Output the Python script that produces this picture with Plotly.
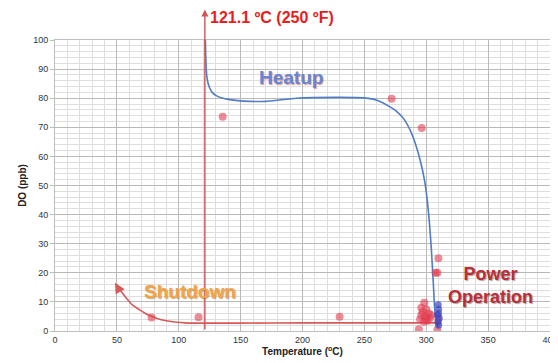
import plotly.graph_objects as go

# Heatup curve (temperature °C, DO ppb)
heat_t = [121.5, 121.8, 122.2, 122.7, 123.5, 125, 127, 130.6, 135, 140, 152, 170, 195, 230, 250, 258, 264, 270, 276, 282, 287, 291.5, 295.5, 298.5, 300.8, 302.6, 304.0, 305.1, 306.0, 306.6, 307.3, 308.2, 309.5]
heat_do = [100, 95, 90, 87.4, 85.5, 83.5, 82.0, 80.8, 80.1, 79.6, 79.0, 78.9, 80.0, 80.3, 80.1, 79.6, 78.6, 77.2, 75.5, 72.8, 69.0, 64.0, 58.0, 52.0, 45.0, 37.0, 29.0, 21.0, 14.0, 9.0, 5.5, 3.0, 1.2]

# Shutdown curve
shut_t = [310, 250, 200, 150, 115, 105, 98.3, 90, 82, 75, 68.7, 62.5, 57.9, 53, 49.5]
shut_do = [2.8, 2.8, 2.8, 2.7, 2.7, 2.8, 3.0, 3.5, 4.4, 5.6, 7.2, 9.0, 11.2, 13.8, 16.0]

# Measured points (red)
red_t = [135.5, 272, 296.3, 78, 116, 230, 309.8, 309, 307.5, 298.4, 294, 309, 296, 297, 299, 300, 302, 303, 295, 298, 301, 304, 309.7, 296, 300]
red_do = [73.6, 79.8, 69.8, 4.6, 4.7, 4.9, 25.0, 20.0, 20.0, 9.7, 0.6, 0.4, 8.0, 6.5, 5.0, 7.5, 6.0, 4.5, 4.0, 3.2, 3.5, 5.5, 3.8, 5.5, 4.2]

# Measured points (blue)
blue_t = [309.7, 310, 310, 310.5, 309.5, 310, 309]
blue_do = [9.0, 7.5, 6.0, 4.5, 3.0, 2.0, 5.5]

fig = go.Figure()

fig.add_trace(go.Scatter(x=heat_t, y=heat_do, mode="lines", line=dict(color="rgb(80,125,195)", width=1.6, shape="spline", smoothing=0.4), hoverinfo="skip", showlegend=False))
fig.add_trace(go.Scatter(x=shut_t, y=shut_do, mode="lines", line=dict(color="rgb(215,90,90)", width=1.6, shape="spline", smoothing=0.5), hoverinfo="skip", showlegend=False))
fig.add_trace(go.Scatter(x=red_t, y=red_do, mode="markers", marker=dict(color="rgba(225,60,80,0.6)", size=8), showlegend=False))
fig.add_trace(go.Scatter(x=blue_t, y=blue_do, mode="markers", marker=dict(color="rgba(60,70,190,0.7)", size=7), showlegend=False))

# Arrow head for shutdown curve
fig.add_annotation(x=48.5, y=16.6, ax=52.5, ay=13.6, axref="x", ayref="y", xref="x", yref="y", text="", showarrow=True, arrowhead=2, arrowsize=1.3, arrowwidth=1.6, arrowcolor="rgb(215,90,90)")

# 121.1 °C vertical arrow
fig.add_annotation(x=121.1, y=110.5, ax=121.1, ay=0, axref="x", ayref="y", xref="x", yref="y", text="", showarrow=True, arrowhead=2, arrowsize=1, arrowwidth=1.4, arrowcolor="rgb(205,85,85)")
fig.add_annotation(x=123.5, y=1.078, xref="x", yref="paper", text="<b>121.1 ºC (250 ºF)</b>", showarrow=False, xanchor="left", yanchor="middle", font=dict(family="Liberation Sans Narrow, Liberation Sans", size=16, color="rgb(230,30,30)"))

fig.add_annotation(x=190.5, y=87, xref="x", yref="y", text="<b>Heatup</b>", showarrow=False, font=dict(family="Liberation Sans", size=19, color="rgb(100,135,215)", shadow="1px 1px 1px rgba(200,80,80,0.6)"))
fig.add_annotation(x=109, y=13.5, xref="x", yref="y", text="<b>Shutdown</b>", showarrow=False, font=dict(family="Liberation Sans", size=19, color="rgb(240,165,70)", shadow="1px 1px 1px rgba(140,80,20,0.5)"))
fig.add_annotation(x=352, y=15.5, xref="x", yref="y", text="<b>Power<br>Operation</b>", showarrow=False, font=dict(family="Liberation Sans", size=18, color="rgb(190,45,55)", shadow="1px 1px 1px rgba(0,0,0,0.35)"))

fig.update_xaxes(range=[0, 400], dtick=50, tick0=0, showgrid=True, gridcolor="rgb(185,185,185)", gridwidth=1,
                 minor=dict(dtick=10, showgrid=True, gridcolor="rgb(222,222,222)", gridwidth=1),
                 showline=True, linecolor="rgb(190,190,190)", mirror=True, zeroline=False, automargin=False,
                 ticks="", tickfont=dict(family="Liberation Sans", size=9, color="#333"),
                 title=dict(text="<b>Temperature (<sup>o</sup>C)</b>", font=dict(family="Liberation Sans", size=10, color="#222"), standoff=2))
fig.update_yaxes(range=[0, 100], dtick=10, tick0=0, showgrid=True, gridcolor="rgb(185,185,185)", gridwidth=1,
                 minor=dict(dtick=2, showgrid=True, gridcolor="rgb(222,222,222)", gridwidth=1),
                 showline=True, linecolor="rgb(190,190,190)", mirror=True, zeroline=False, automargin=False,
                 ticks="outside", ticklen=4, tickcolor="rgb(190,190,190)",
                 tickfont=dict(family="Liberation Sans", size=9, color="#333"),
                 title=dict(text="<b>DO (ppb)</b>", font=dict(family="Liberation Sans", size=10, color="#222"), standoff=4))

fig.update_layout(width=550, height=355, margin=dict(l=47, r=8, t=32, b=32, autoexpand=False),
                  paper_bgcolor="white", plot_bgcolor="white", showlegend=False,
                  font=dict(family="Liberation Sans"))

fig.write_html("out.html")
